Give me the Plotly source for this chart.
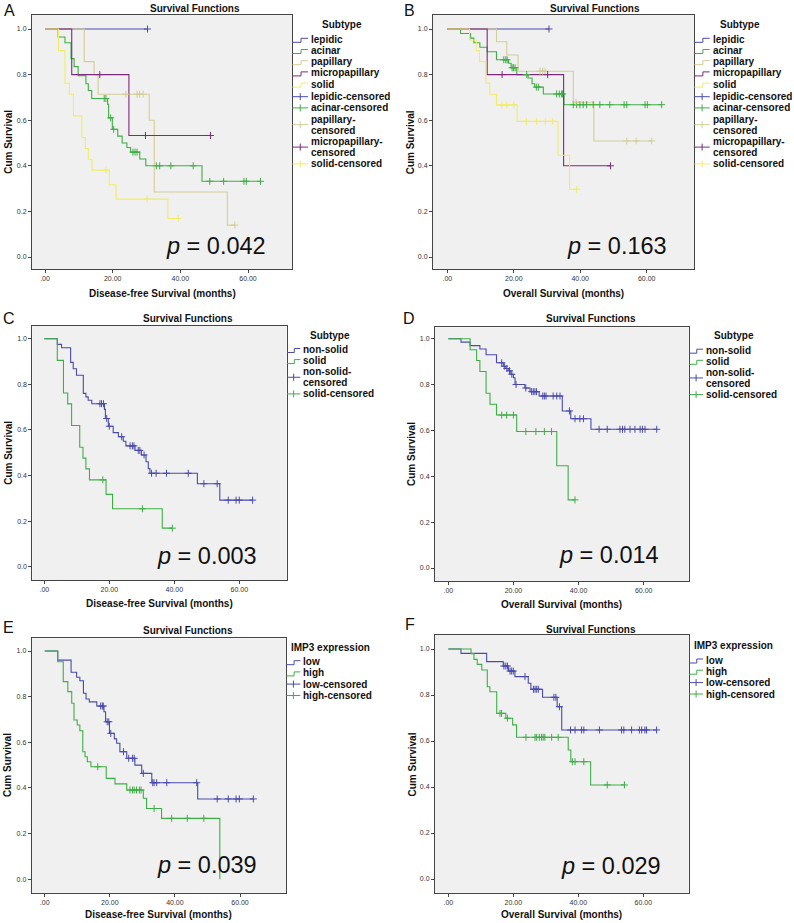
import numpy as np
import plotly.graph_objects as go

W, H = 794, 923
FONT = "Liberation Sans, Arial, sans-serif"

# ---------------------------------------------------------------- data
x_tick_vals = [0, 20, 40, 60]
x_tick_text = [".00", "20.00", "40.00", "60.00"]
y_tick_vals = [0.0, 0.2, 0.4, 0.6, 0.8, 1.0]
y_tick_text = ["0.0", "0.2", "0.4", "0.6", "0.8", "1.0"]

subtype_groups = ["lepidic", "acinar", "papillary", "micropapillary", "solid"]
solid_groups = ["non-solid", "solid"]
imp3_groups = ["low", "high"]
panel_letters = ["A", "B", "C", "D", "E", "F"]
p_values = ["0.042", "0.163", "0.003", "0.014", "0.039", "0.029"]

# Disease-free survival by subtype (A)  -- t: event times, s: survival, c: censored times
dfs_lepidic_t = [0]
dfs_lepidic_s = [1.0]
dfs_lepidic_c = [30.3]

dfs_acinar_t = [0, 3.9, 5.9, 7.7, 8.6, 9.8, 12.1, 12.8, 13.8, 18.5, 18.8, 19.9, 21.5, 22.8, 24.2, 25.3, 28.0, 29.8, 46.4]
dfs_acinar_s = [1.0, 0.965, 0.94, 0.87, 0.835, 0.795, 0.76, 0.73, 0.695, 0.67, 0.61, 0.56, 0.53, 0.50, 0.48, 0.46, 0.43, 0.40, 0.332]
dfs_acinar_c = [17.5, 18.0, 19.4, 20.3, 26.0, 26.6, 27.2, 32.9, 33.9, 37.2, 43.8, 48.7, 52.8, 58.8, 59.5, 63.7]

dfs_papillary_t = [0, 11.6, 14.5, 15.7, 30.8, 32.3, 53.9]
dfs_papillary_s = [1.0, 0.857, 0.80, 0.714, 0.60, 0.285, 0.14]
dfs_papillary_c = [23.9, 27.2, 28.0, 29.0, 56.1]

dfs_micro_t = [0, 7.9, 24.8]
dfs_micro_s = [1.0, 0.80, 0.533]
dfs_micro_c = [16.2, 29.7, 48.9]

dfs_solid_t = [0, 4.0, 5.9, 7.2, 8.4, 10.9, 11.9, 12.8, 13.9, 19.0, 21.0, 36.3]
dfs_solid_s = [1.0, 0.905, 0.762, 0.714, 0.619, 0.524, 0.476, 0.429, 0.381, 0.317, 0.254, 0.169]
dfs_solid_c = [18.0, 30.2, 39.4]

# Overall survival by subtype (B)
os_lepidic_t = [0]
os_lepidic_s = [1.0]
os_lepidic_c = [30.6]

os_acinar_t = [0, 4.0, 7.0, 8.0, 9.8, 12.0, 14.8, 18.4, 19.2, 20.9, 24.3, 25.5, 26.3, 28.9, 35.1]
os_acinar_s = [1.0, 0.98, 0.96, 0.94, 0.92, 0.90, 0.865, 0.85, 0.83, 0.80, 0.785, 0.76, 0.745, 0.715, 0.668]
os_acinar_c = [17.0, 17.6, 18.0, 19.5, 19.9, 20.4, 23.9, 26.8, 27.4, 32.9, 33.7, 34.4, 34.7, 37.9, 38.9,
               39.9, 40.9, 41.9, 43.9, 45.9, 48.9, 53.2, 54.0, 59.5, 60.2, 64.5]

os_papillary_t = [0, 14.8, 17.9, 21.3, 37.9, 44.1]
os_papillary_s = [1.0, 0.944, 0.886, 0.815, 0.679, 0.509]
os_papillary_c = [27.9, 28.7, 29.4, 38.7, 54.0, 56.8, 61.5]

os_micro_t = [0, 12.0, 35.0]
os_micro_s = [1.0, 0.80, 0.40]
os_micro_c = [16.5, 30.2, 49.1]

os_solid_t = [0, 6.7, 8.7, 9.7, 11.6, 12.8, 14.8, 21.0, 33.3, 36.8]
os_solid_s = [1.0, 0.952, 0.905, 0.857, 0.762, 0.714, 0.667, 0.595, 0.446, 0.297]
os_solid_c = [16.4, 17.9, 20.0, 23.8, 26.9, 29.5, 31.7, 38.9]

# Non-solid (C: DFS, D: OS)
dfs_nonsolid_t = [0, 4.0, 5.3, 8.1, 8.9, 9.9, 12.0, 12.8, 13.5, 14.6, 18.5, 18.8, 19.7, 21.2, 22.8, 24.3,
                  25.1, 27.9, 29.9, 31.3, 32.0, 32.5, 47.1, 54.0]
dfs_nonsolid_s = [1.0, 0.975, 0.96, 0.896, 0.868, 0.84, 0.76, 0.745, 0.73, 0.715, 0.69, 0.65, 0.616, 0.588,
                  0.57, 0.55, 0.53, 0.51, 0.49, 0.46, 0.43, 0.41, 0.364, 0.292]
dfs_nonsolid_c = [17.1, 17.6, 18.2, 19.2, 20.0, 23.8, 26.4, 27.1, 27.6, 28.9, 29.4, 30.7, 33.0, 34.4, 37.6,
                  44.3, 49.1, 53.2, 56.6, 59.0, 60.0, 64.1]

os_nonsolid_t = [0, 3.9, 6.7, 9.7, 11.6, 14.8, 16.9, 17.7, 18.4, 19.2, 20.0, 20.5, 23.5, 25.1, 27.9, 35.0, 37.6, 43.8]
os_nonsolid_s = [1.0, 0.985, 0.97, 0.955, 0.93, 0.895, 0.88, 0.87, 0.86, 0.845, 0.83, 0.80, 0.785, 0.769,
                 0.75, 0.685, 0.651, 0.605]
os_nonsolid_c = [16.4, 17.2, 18.0, 18.8, 19.5, 20.8, 23.8, 25.6, 26.1, 26.6, 27.1, 29.0, 29.5, 30.0, 32.2,
                 33.3, 34.3, 37.2, 38.9, 40.4, 41.5, 46.3, 48.8, 52.7, 53.5, 54.2, 55.8, 57.3, 58.9, 59.6,
                 60.4, 64.0]

# IMP3 expression (E: DFS, F: OS)
dfs_low_t = [0, 4.0, 8.1, 9.8, 10.8, 11.9, 12.7, 13.7, 16.0, 18.2, 18.7, 19.9, 21.4, 22.1, 23.1, 25.2, 27.7,
             29.8, 32.9, 47.0]
dfs_low_s = [1.0, 0.96, 0.907, 0.885, 0.87, 0.815, 0.79, 0.777, 0.759, 0.734, 0.69, 0.639, 0.615, 0.596,
             0.559, 0.53, 0.50, 0.464, 0.423, 0.352]
dfs_low_c = [17.2, 17.7, 18.0, 19.2, 19.7, 20.3, 24.2, 25.8, 27.0, 27.5, 30.3, 33.2, 33.6, 34.4, 37.5, 46.7,
             53.0, 56.4, 58.8, 59.8, 64.1]

dfs_high_t = [0, 4.0, 5.7, 7.1, 8.3, 9.0, 10.0, 10.8, 11.7, 12.4, 13.1, 14.2, 18.9, 21.6, 25.2, 30.3, 31.3,
              35.9, 53.8]
dfs_high_s = [1.0, 0.953, 0.866, 0.822, 0.771, 0.698, 0.676, 0.651, 0.559, 0.537, 0.515, 0.493, 0.442,
              0.418, 0.391, 0.355, 0.31, 0.267, 0.0]
dfs_high_c = [16.3, 26.2, 27.0, 27.5, 28.2, 29.1, 29.6, 33.6, 39.0, 43.8, 48.9]

os_low_t = [0, 3.9, 11.8, 16.9, 18.5, 20.5, 24.6, 25.4, 29.0, 33.5, 34.9]
os_low_s = [1.0, 0.981, 0.945, 0.926, 0.904, 0.88, 0.851, 0.825, 0.79, 0.749, 0.648]
os_low_c = [17.1, 17.7, 18.2, 19.0, 19.5, 20.0, 23.6, 26.2, 26.7, 27.2, 27.7, 32.5, 33.1, 34.2, 37.6, 39.0,
            41.0, 41.7, 46.5, 53.3, 54.0, 56.4, 58.8, 59.5, 60.5, 61.0, 64.1]

os_high_t = [0, 7.0, 7.9, 8.9, 10.3, 12.0, 12.8, 14.9, 17.7, 19.8, 21.0, 36.9, 37.7, 43.8]
os_high_s = [1.0, 0.98, 0.955, 0.933, 0.909, 0.836, 0.814, 0.72, 0.699, 0.67, 0.616, 0.561, 0.51, 0.409]
os_high_c = [15.9, 16.4, 18.2, 23.9, 26.7, 27.2, 28.0, 28.7, 29.2, 29.7, 31.8, 33.8, 38.2, 39.0, 41.7,
             48.9, 54.2]

# ---------------------------------------------------------------- styles
BLUE = "#4A4AAC"
GREEN = "#3FAE46"
KHAKI = "#D3CE97"
PURPLE = "#7E2A7C"
YELLOW = "#F0EC6A"
subtype_colors = [BLUE, GREEN, KHAKI, PURPLE, YELLOW]
two_colors = [BLUE, GREEN]

DFS_TITLE = "Disease-free Survival (months)"
OS_TITLE = "Overall Survival (months)"

rows_sub_a = [39.3, 50.5, 61.7, 72.9, 84.1, 96.7, 107.9, 119.1, 130.3, 141.5, 152.7, 163.9]

panels = [
    dict(groups=subtype_groups, colors=subtype_colors, xtitle=DFS_TITLE, ltitle="Subtype",
         curves=[(dfs_lepidic_t, dfs_lepidic_s, dfs_lepidic_c), (dfs_acinar_t, dfs_acinar_s, dfs_acinar_c),
                 (dfs_papillary_t, dfs_papillary_s, dfs_papillary_c), (dfs_micro_t, dfs_micro_s, dfs_micro_c),
                 (dfs_solid_t, dfs_solid_s, dfs_solid_c)],
         geo=dict(L=32, R=292, T=15, B=269, x0=45, x60=248, y1=29, y0=257),
         letter=(9, 11), title=(194.5, 8.3), ytitle=(7.8, 142), xtitle_y=293.5, p=(267, 245.5),
         ltitle_pos=(341.7, 25, "center"), ltext_x=310, rows=rows_sub_a),
    dict(groups=subtype_groups, colors=subtype_colors, xtitle=OS_TITLE, ltitle="Subtype",
         curves=[(os_lepidic_t, os_lepidic_s, os_lepidic_c), (os_acinar_t, os_acinar_s, os_acinar_c),
                 (os_papillary_t, os_papillary_s, os_papillary_c), (os_micro_t, os_micro_s, os_micro_c),
                 (os_solid_t, os_solid_s, os_solid_c)],
         geo=dict(L=433, R=694, T=15, B=269, x0=447.3, x60=646.7, y1=29, y0=257),
         letter=(410, 11), title=(594.5, 8.3), ytitle=(410.3, 142), xtitle_y=293.5, p=(668, 245.5),
         ltitle_pos=(739.5, 25, "center"), ltext_x=711.7, rows=rows_sub_a),
    dict(groups=solid_groups, colors=two_colors, xtitle=DFS_TITLE, ltitle="Subtype",
         curves=[(dfs_nonsolid_t, dfs_nonsolid_s, dfs_nonsolid_c), (dfs_solid_t, dfs_solid_s, dfs_solid_c)],
         geo=dict(L=32.3, R=286.5, T=325.7, B=580, x0=44.3, x60=239.3, y1=338.7, y0=566.7),
         letter=(9, 318), title=(187.8, 319), ytitle=(7.8, 453), xtitle_y=603, p=(258, 555.5),
         ltitle_pos=(330, 335, "center"), ltext_x=302.3,
         rows=[349.5, 360.6, 371.7, 382.8, 393.9]),
    dict(groups=solid_groups, colors=two_colors, xtitle=OS_TITLE, ltitle="Subtype",
         curves=[(os_nonsolid_t, os_nonsolid_s, os_nonsolid_c), (os_solid_t, os_solid_s, os_solid_c)],
         geo=dict(L=435, R=688.7, T=327.3, B=581, x0=448.3, x60=643.7, y1=338.7, y0=568),
         letter=(409, 319), title=(590.8, 319), ytitle=(411, 454), xtitle_y=604, p=(660, 554.5),
         ltitle_pos=(733.7, 335, "center"), ltext_x=705,
         rows=[350.2, 361.3, 372.4, 383.5, 394.6]),
    dict(groups=imp3_groups, colors=two_colors, xtitle=DFS_TITLE, ltitle="IMP3 expression",
         curves=[(dfs_low_t, dfs_low_s, dfs_low_c), (dfs_high_t, dfs_high_s, dfs_high_c)],
         geo=dict(L=31.7, R=286, T=638.3, B=892.7, x0=44.7, x60=240, y1=651, y0=879.3),
         letter=(8, 627), title=(187.8, 630), ytitle=(7.5, 765.5), xtitle_y=914.5, p=(258, 864.5),
         ltitle_pos=(290, 647, "left"), ltext_x=302.3,
         rows=[661.7, 672.9, 684.1, 695.5]),
    dict(groups=imp3_groups, colors=two_colors, xtitle=OS_TITLE, ltitle="IMP3 expression",
         curves=[(os_low_t, os_low_s, os_low_c), (os_high_t, os_high_s, os_high_c)],
         geo=dict(L=435, R=688.7, T=635, B=892.7, x0=448.3, x60=643.3, y1=649, y0=879),
         letter=(410, 624.5), title=(591.2, 629), ytitle=(411.5, 764), xtitle_y=914.5, p=(662, 865.5),
         ltitle_pos=(693.3, 645, "left"), ltext_x=705,
         rows=[660, 671.2, 682.6, 694]),
]


def px(x):
    return x / W


def py(y):
    return 1 - y / H


def km_line(t, s, c):
    end = max([t[-1]] + list(c))
    return list(t) + [end], list(s) + [s[-1]]


def censor_y(t, s, c):
    idx = np.searchsorted(np.asarray(t, float), np.asarray(c, float), side="right") - 1
    return [s[i] for i in idx]


def txt(text, x, y, size=10, bold=True, xanchor="center", angle=0):
    return dict(text=("<b>%s</b>" % text) if bold else text, x=px(x), y=py(y), xref="paper", yref="paper",
                showarrow=False, xanchor=xanchor, yanchor="middle", textangle=angle,
                font=dict(family=FONT, size=size, color="#111111"), borderpad=0)


fig = go.Figure()
layout = {}
annotations = []
shapes = []

axis_common = dict(showline=True, linecolor="#454545", linewidth=1, mirror=True, ticks="outside",
                   ticklen=3, tickwidth=1, tickcolor="#454545", showgrid=False, zeroline=False,
                   fixedrange=True, tickfont=dict(family=FONT, size=7, color="#333333"))

for i, pan in enumerate(panels):
    n = i + 1
    sfx = "" if n == 1 else str(n)
    g = pan["geo"]
    kx = (g["x60"] - g["x0"]) / 60.0
    ky = g["y0"] - g["y1"]
    xr = [(g["L"] - g["x0"]) / kx, (g["R"] - g["x0"]) / kx]
    yr = [(g["y0"] - g["B"]) / ky, (g["y0"] - g["T"]) / ky]
    layout["xaxis" + sfx] = dict(axis_common, domain=[px(g["L"]), px(g["R"])], range=xr, anchor="y" + sfx,
                                 tickvals=x_tick_vals, ticktext=x_tick_text)
    layout["yaxis" + sfx] = dict(axis_common, domain=[py(g["B"]), py(g["T"])], range=yr, anchor="x" + sfx,
                                 tickvals=y_tick_vals, ticktext=y_tick_text)

    # curves
    for (t, s, c), name, col in zip(pan["curves"], pan["groups"], pan["colors"]):
        lx, ly = km_line(t, s, c)
        fig.add_trace(go.Scatter(x=lx, y=ly, mode="lines", line=dict(shape="hv", color=col, width=1.1),
                                 name=name, xaxis="x" + sfx, yaxis="y" + sfx, hoverinfo="skip",
                                 showlegend=False))
    for (t, s, c), name, col in zip(pan["curves"], pan["groups"], pan["colors"]):
        fig.add_trace(go.Scatter(x=c, y=censor_y(t, s, c), mode="markers", name=name + "-censored",
                                 marker=dict(symbol="cross-thin", size=5, color=col, line=dict(color=col, width=1)),
                                 xaxis="x" + sfx, yaxis="y" + sfx, hoverinfo="skip", showlegend=False))

    # texts
    lx_, ly_ = pan["letter"]
    annotations.append(txt(panel_letters[i], lx_, ly_, size=16, bold=False))
    annotations.append(txt("Survival Functions", pan["title"][0], pan["title"][1], size=10))
    annotations.append(txt("Cum Survival", pan["ytitle"][0], pan["ytitle"][1], size=10, angle=-90))
    annotations.append(txt(pan["xtitle"], (g["L"] + g["R"]) / 2, pan["xtitle_y"], size=10))
    annotations.append(dict(text="<i>p</i> = " + p_values[i], x=px(pan["p"][0]), y=py(pan["p"][1]),
                            xref="paper", yref="paper", showarrow=False, xanchor="right", yanchor="middle",
                            font=dict(family=FONT, size=23.5, color="#111111"), borderpad=0))

    # legend (drawn)
    tx, tyy, tanchor = pan["ltitle_pos"]
    annotations.append(txt(pan["ltitle"], tx, tyy, size=10, xanchor=tanchor))
    items = []
    for name, col in zip(pan["groups"], pan["colors"]):
        items.append(([name], "step", col))
    for name, col in zip(pan["groups"], pan["colors"]):
        lab = name + "-censored"
        lines = [name + "-", "censored"] if len(name) >= 8 else [lab]
        items.append((lines, "cens", col))
    r = 0
    x_a = g["R"] + 0.5
    x_b = pan["ltext_x"] - 2
    for lines, kind, col in items:
        ys = pan["rows"][r:r + len(lines)]
        r += len(lines)
        for ln, yy in zip(lines, ys):
            annotations.append(txt(ln, pan["ltext_x"], yy, size=10, xanchor="left"))
        yc = sum(ys) / len(ys)
        if kind == "step":
            xm = x_a + (x_b - x_a) * 0.55
            path = "M %f,%f L %f,%f L %f,%f L %f,%f" % (px(x_a), py(yc + 3), px(xm), py(yc + 3),
                                                        px(xm), py(yc - 1), px(x_b), py(yc - 1))
            shapes.append(dict(type="path", path=path, xref="paper", yref="paper",
                               line=dict(color=col, width=1)))
        else:
            xm = (x_a + x_b) / 2
            shapes.append(dict(type="line", xref="paper", yref="paper", x0=px(x_a), x1=px(x_b),
                               y0=py(yc), y1=py(yc), line=dict(color=col, width=1)))
            shapes.append(dict(type="line", xref="paper", yref="paper", x0=px(xm), x1=px(xm),
                               y0=py(yc - 3.5), y1=py(yc + 3.5), line=dict(color=col, width=1)))

fig.update_layout(width=W, height=H, margin=dict(l=0, r=0, t=0, b=0, pad=0),
                  paper_bgcolor="white", plot_bgcolor="#F0F0F0", showlegend=False,
                  annotations=annotations, shapes=shapes, font=dict(family=FONT), **layout)

fig.write_html("out.html", config={"displayModeBar": False},
               post_script="document.body.style.margin='0px';"
                           "document.documentElement.style.overflow='hidden';")
